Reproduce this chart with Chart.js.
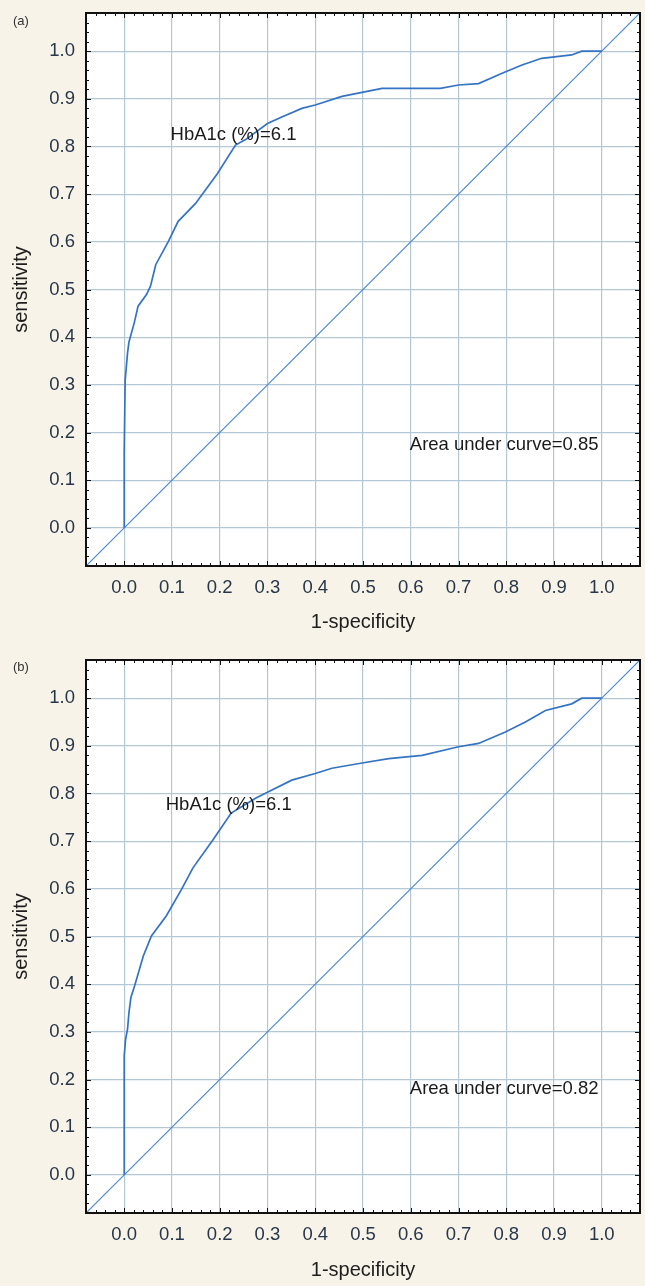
<!DOCTYPE html>
<html>
<head>
<meta charset="utf-8">
<script src="https://cdn.jsdelivr.net/npm/chart.js@4.4.1/dist/chart.umd.min.js"></script>
<style>
  html, body { margin: 0; padding: 0; background: #f8f3e9; }
  .panel { position: absolute; left: 0; width: 645px; }
  #wrapA { top: 0; height: 640px; }
  #wrapB { top: 640px; height: 646px; }
</style>
</head>
<body>
<div class="panel" id="wrapA"><canvas id="rocA" width="645" height="640"></canvas></div>
<div class="panel" id="wrapB"><canvas id="rocB" width="645" height="646"></canvas></div>
<script>
// tick labels, same on both axes
const tickValues = [0.0, 0.1, 0.2, 0.3, 0.4, 0.5, 0.6, 0.7, 0.8, 0.9, 1.0];
const axisMin = -0.08;
const axisMax = 1.08;

// (a) ROC curve: 1-specificity / sensitivity
const fprA = [0, 0, 0.002, 0.007, 0.01, 0.021, 0.029, 0.047, 0.055, 0.066, 0.092, 0.113, 0.149, 0.195, 0.233, 0.255,
  0.30, 0.33, 0.372, 0.40, 0.456, 0.54, 0.60, 0.662, 0.70, 0.742, 0.79, 0.833, 0.874, 0.937, 0.958, 1.0];
const tprA = [0, 0.157, 0.31, 0.367, 0.39, 0.43, 0.465, 0.49, 0.507, 0.552, 0.60, 0.643, 0.68, 0.743, 0.803, 0.815,
  0.848, 0.862, 0.88, 0.887, 0.905, 0.922, 0.922, 0.922, 0.929, 0.932, 0.953, 0.971, 0.985, 0.992, 1.0, 1.0];

// (b) ROC curve
const fprB = [0, 0, 0.003, 0.007, 0.01, 0.014, 0.022, 0.04, 0.057, 0.088, 0.12, 0.144, 0.186, 0.224, 0.275,
  0.303, 0.351, 0.40, 0.435, 0.498, 0.554, 0.624, 0.70, 0.742, 0.798, 0.84, 0.882, 0.937, 0.958, 1.0];
const tprB = [0, 0.25, 0.285, 0.306, 0.341, 0.372, 0.397, 0.459, 0.501, 0.543, 0.599, 0.644, 0.703, 0.759, 0.79,
  0.804, 0.828, 0.842, 0.853, 0.864, 0.873, 0.88, 0.898, 0.905, 0.929, 0.95, 0.974, 0.988, 1.0, 1.0];

// chance line, corner to corner
const diagX = [-0.08, 1.08];
const diagY = [-0.08, 1.08];

const cutoffText = 'HbA1c (%)=6.1';
const aucA = 0.85;
const aucB = 0.82;

const FONT = "'Liberation Sans', Arial, sans-serif";

function toPoints(xs, ys) {
  return xs.map((v, i) => ({ x: v, y: ys[i] }));
}

// white plot area, inward ticks, black frame and the text notes
const framePlugin = {
  id: 'frame',
  beforeDraw(chart) {
    const { ctx, chartArea: a } = chart;
    ctx.save();
    ctx.fillStyle = '#ffffff';
    ctx.fillRect(a.left, a.top, a.right - a.left, a.bottom - a.top);
    ctx.restore();
  },
  afterDraw(chart, args, opts) {
    const { ctx, chartArea: a, scales: { x, y } } = chart;
    ctx.save();
    ctx.strokeStyle = '#111111';
    ctx.lineWidth = 1;
    for (let i = -4; i <= 54; i++) {
      const v = i * 0.02;
      const len = i % 5 === 0 ? 5 : 3;
      const px = Math.round(x.getPixelForValue(v)) + 0.5;
      const py = Math.round(y.getPixelForValue(v)) + 0.5;
      ctx.beginPath();
      ctx.moveTo(px, a.bottom); ctx.lineTo(px, a.bottom - len);
      ctx.moveTo(px, a.top); ctx.lineTo(px, a.top + len);
      ctx.moveTo(a.left, py); ctx.lineTo(a.left + len, py);
      ctx.moveTo(a.right, py); ctx.lineTo(a.right - len, py);
      ctx.stroke();
    }
    ctx.lineWidth = 2;
    ctx.strokeRect(a.left, a.top, a.right - a.left, a.bottom - a.top);

    ctx.fillStyle = '#1a1a1a';
    ctx.textBaseline = 'middle';
    ctx.textAlign = 'left';
    ctx.font = '18.5px ' + FONT;
    opts.notes.forEach(n => {
      ctx.fillText(n.text, x.getPixelForValue(n.x), y.getPixelForValue(n.y));
    });
    ctx.font = '13px ' + FONT;
    ctx.fillStyle = '#333333';
    ctx.fillText(opts.panel, opts.panelX, opts.panelY);
    ctx.restore();
  }
};

function makeChart(id, fpr, tpr, o) {
  const axis = (title, titlePad, fit) => ({
    type: 'linear',
    min: axisMin,
    max: axisMax,
    afterBuildTicks: s => { s.ticks = tickValues.map(v => ({ value: v })); },
    afterFit: s => {
      fit(s);
      // labels never reach the edges here, so drop the edge padding
      s.paddingTop = 0; s.paddingBottom = 0;
      s.paddingLeft = 0; s.paddingRight = 0;
    },
    ticks: {
      autoSkip: false,
      maxRotation: 0,
      padding: 11,
      color: '#27364a',
      font: { family: FONT, size: 18.5 },
      callback: v => v.toFixed(1)
    },
    grid: { color: '#b4c7d5', lineWidth: 1.2, drawTicks: false },
    border: { display: false },
    title: {
      display: true,
      text: title,
      color: '#1e1e1e',
      font: { family: FONT, size: 20 },
      padding: titlePad
    }
  });

  return new Chart(document.getElementById(id), {
    type: 'scatter',
    data: {
      datasets: [
        {
          data: toPoints(fpr, tpr),
          showLine: true,
          borderColor: '#3473c4',
          borderWidth: 1.7,
          pointRadius: 0,
          tension: 0
        },
        {
          data: toPoints(diagX, diagY),
          showLine: true,
          borderColor: '#4a8ad4',
          borderWidth: 1.2,
          pointRadius: 0,
          tension: 0
        }
      ]
    },
    options: {
      responsive: false,
      animation: false,
      layout: { padding: { top: o.padTop, right: 5, left: 0, bottom: 0 } },
      plugins: {
        legend: { display: false },
        tooltip: { enabled: false },
        frame: {
          panel: o.panel, panelX: 13, panelY: o.panelY,
          notes: [
            { text: cutoffText, x: o.cutX, y: o.cutY },
            { text: 'Area under curve=' + o.auc.toFixed(2), x: 0.598, y: o.aucY }
          ]
        }
      },
      scales: {
        x: axis('1-specificity', { top: 0, bottom: o.xTitlePad }, s => { s.height = o.xHeight; }),
        y: axis('sensitivity', { top: 9, bottom: 0 }, s => { s.width = 86; })
      }
    },
    plugins: [framePlugin]
  });
}

makeChart('rocA', fprA, tprA, {
  panel: '(a)', panelY: 21, padTop: 13, xHeight: 74, xTitlePad: 5.5,
  auc: aucA, aucY: 0.174, cutX: 0.097, cutY: 0.825
});
makeChart('rocB', fprB, tprB, {
  panel: '(b)', panelY: 27, padTop: 20, xHeight: 73, xTitlePad: 4,
  auc: aucB, aucY: 0.181, cutX: 0.087, cutY: 0.776
});
</script>
</body>
</html>
